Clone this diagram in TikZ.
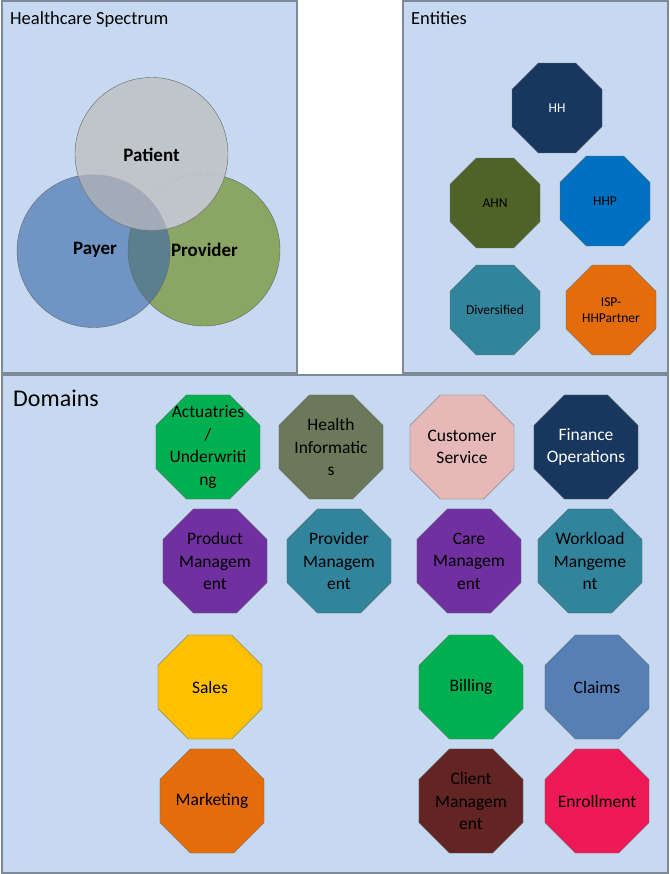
\documentclass[tikz,border=0pt]{standalone}
\usepackage{fontspec}
\setmainfont{Carlito}
\usetikzlibrary{shapes.geometric}
\definecolor{panelfill}{HTML}{C6D9F0}
\definecolor{panelline}{HTML}{7F8A98}
\definecolor{octline}{HTML}{6A6A6A}
\definecolor{patientc}{HTML}{C0C5CA}
\definecolor{payerc}{HTML}{7094C4}
\definecolor{providerc}{HTML}{8AA564}
\definecolor{payprov}{HTML}{5A8090}
\definecolor{patpay}{HTML}{A2ACB8}
\definecolor{navy}{HTML}{17375E}
\definecolor{olive}{HTML}{4F6228}
\definecolor{hhpblue}{HTML}{0070C0}
\definecolor{teal}{HTML}{31849B}
\definecolor{orangec}{HTML}{E46C0A}
\definecolor{greenc}{HTML}{00B050}
\definecolor{greyolive}{HTML}{6B7859}
\definecolor{pinkc}{HTML}{E6B9B8}
\definecolor{purplec}{HTML}{7030A0}
\definecolor{yellowc}{HTML}{FFC000}
\definecolor{claimsc}{HTML}{557FB5}
\definecolor{brownc}{HTML}{632523}
\definecolor{redpink}{HTML}{EE1A58}
\begin{document}
\begin{tikzpicture}[x=1pt,y=-1pt,
  panelbox/.style={draw=panelline, fill=panelfill, line width=1.1pt},
  title/.style={anchor=base west, inner sep=0pt, font=\fontsize{18.5}{22}\selectfont},
  circ/.style={draw=black!60, line width=0.4pt},
  venntext/.style={font=\fontsize{19}{22}\selectfont\bfseries, inner sep=0pt},
  entoct/.style={regular polygon, regular polygon sides=8, minimum size=97.4pt, inner sep=0pt, draw=octline, line width=0.4pt},
  entext/.style={align=center, inner sep=0pt, font=\fontsize{13.5}{16}\selectfont},
  domoct/.style={regular polygon, regular polygon sides=8, minimum size=112.6pt, inner sep=0pt, draw=octline, line width=0.4pt},
  domtext/.style={align=center, inner sep=0pt, font=\fontsize{17.5}{22.5}\selectfont}
]
\useasboundingbox (0,0) rectangle (669,874);
% panels
\draw[panelbox] (2,1) rectangle (297,373);
\draw[panelbox] (403,1) rectangle (668,373);
\draw[panelbox] (2,375) rectangle (668,873);
\node[title] (t1) at (10,25) {Healthcare Spectrum};
\node[title] (t2) at (411,25) {Entities};
\node[title, font=\fontsize{24}{28}\selectfont] (t3) at (13,406) {Domains};

% Venn diagram
\fill[payerc] (93.5,251) circle (76.5);
\fill[providerc] (204,250) circle (76);
\begin{scope}
  \clip (93.5,251) circle (76.5);
  \fill[payprov] (204,250) circle (76);
\end{scope}
\draw[circ] (93.5,251) circle (76.5);
\draw[circ] (204,250) circle (76);
\fill[patientc] (151.5,154) circle (76.5);
\begin{scope}
  \clip (151.5,154) circle (76.5);
  \fill[patpay] (93.5,251) circle (76.5);
  \draw[black!30, line width=0.4pt, dashed] (204,250) circle (76);
\end{scope}
\draw[circ] (151.5,154) circle (76.5);
\node[venntext] (patient) at (151.5,155) {Patient};
\node[venntext] (payer) at (95,250) {Payer};
\node[venntext] (provider) at (204.5,250) {Provider};

% Entities
\node[entoct, fill=navy] (hh) at (557,108) {};
\node[entext, text=white] (hht) at (hh) {HH};
\node[entoct, fill=olive] (ahn) at (495,203) {};
\node[entext] (ahnt) at (ahn) {AHN};
\node[entoct, fill=hhpblue] (hhp) at (605,201) {};
\node[entext] (hhpt) at (hhp) {HHP};
\node[entoct, fill=teal] (div) at (495,310) {};
\node[entext] (divt) at (div) {Diversified};
\node[entoct, fill=orangec] (isp) at (611,310) {};
\node[entext] (ispt) at (isp) {ISP-\\HHPartner};

% Domains
\node[domoct, fill=greenc] (act) at (208,447) {};
\node[domtext] (actt) at (act) {Actuatries\\/\\Underwriti\\ng};
\node[domoct, fill=greyolive] (hi) at (331,447) {};
\node[domtext] (hit) at (hi) {Health\\Informatic\\s};
\node[domoct, fill=pinkc] (cs) at (462,447) {};
\node[domtext] (cst) at (cs) {Customer\\Service};
\node[domoct, fill=navy] (fo) at (586,447) {};
\node[domtext, text=white] (fot) at (fo) {Finance\\Operations};

\node[domoct, fill=purplec] (pm) at (215,561) {};
\node[domtext] (pmt) at (pm) {Product\\Managem\\ent};
\node[domoct, fill=teal] (prm) at (339,561) {};
\node[domtext] (prmt) at (prm) {Provider\\Managem\\ent};
\node[domoct, fill=purplec] (cm) at (469,561) {};
\node[domtext] (cmt) at (cm) {Care\\Managem\\ent};
\node[domoct, fill=teal] (wm) at (590,561) {};
\node[domtext] (wmt) at (wm) {Workload\\Mangeme\\nt};

\node[domoct, fill=yellowc] (sales) at (210,687) {};
\node[domtext] (salest) at (sales) {Sales};
\node[domoct, fill=greenc] (bill) at (471,687) {};
\node[domtext] (billt) at (bill) {Billing};
\node[domoct, fill=claimsc] (claims) at (597,687) {};
\node[domtext] (claimst) at (claims) {Claims};

\node[domoct, fill=orangec] (mkt) at (212,801) {};
\node[domtext] (mktt) at (mkt) {Marketing};
\node[domoct, fill=brownc] (client) at (471,801) {};
\node[domtext] (clientt) at (client) {Client\\Managem\\ent};
\node[domoct, fill=redpink] (enr) at (597,801) {};
\node[domtext] (enrt) at (enr) {Enrollment};
\end{tikzpicture}
\end{document}
